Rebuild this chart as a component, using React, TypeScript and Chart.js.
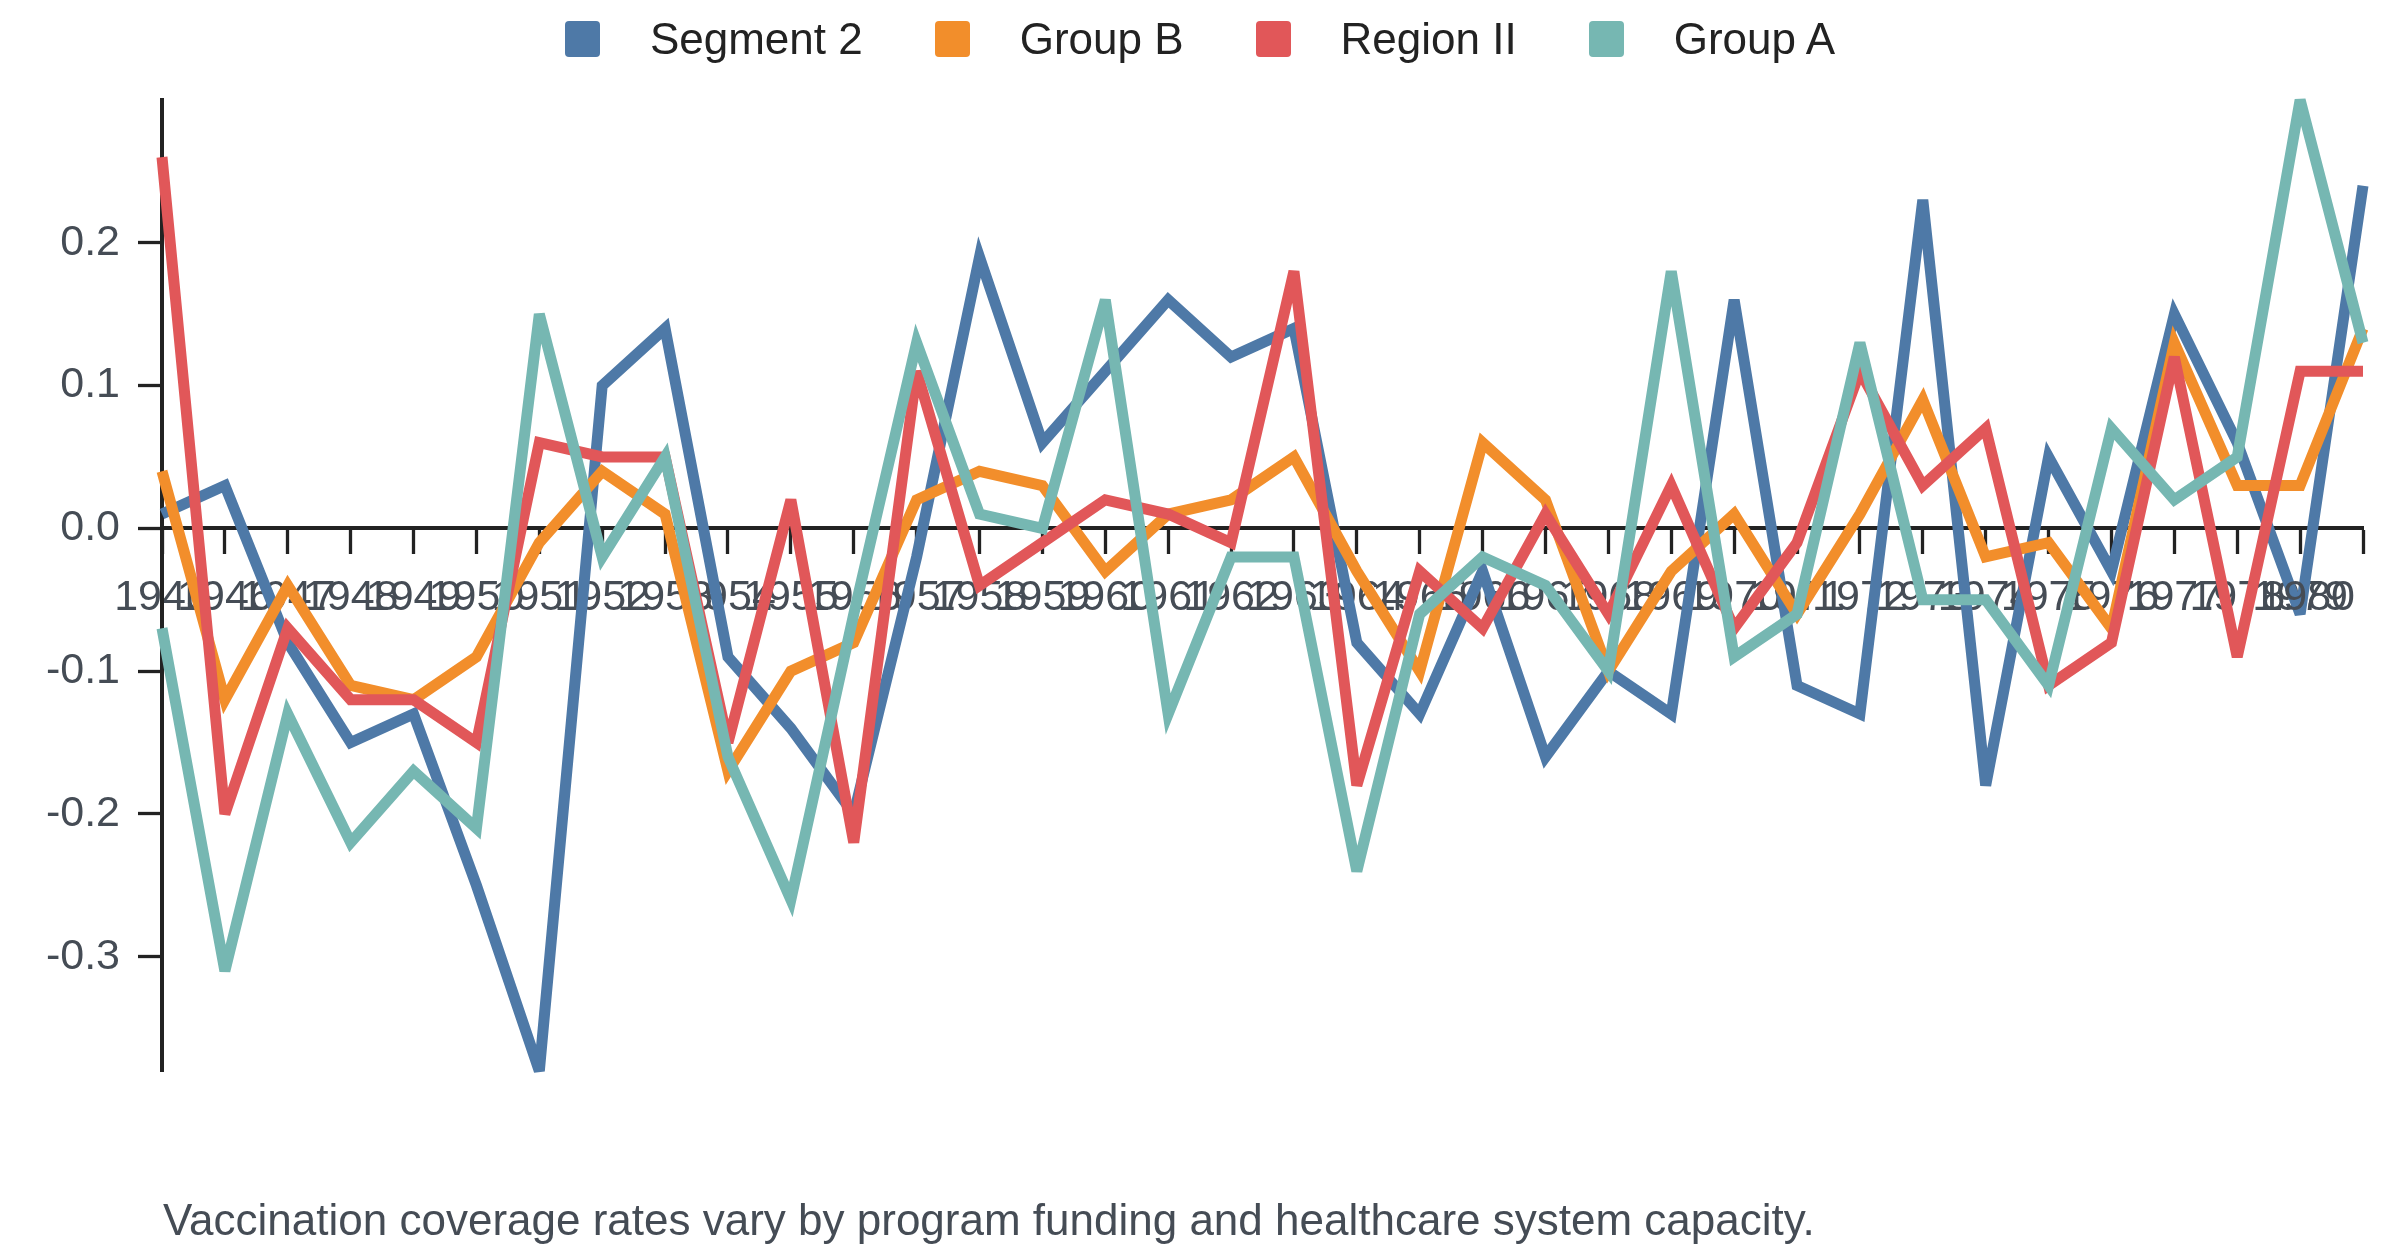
import { useEffect, useRef } from 'react';
import { Chart, registerables } from 'chart.js';
Chart.register(...registerables);

const years = [
  '1945', '1946', '1947', '1948', '1949', '1950', '1951', '1952', '1953', '1954', '1955', '1956',
  '1957', '1958', '1959', '1960', '1961', '1962', '1963', '1964', '1965', '1966', '1967', '1968',
  '1969', '1970', '1971', '1972', '1973', '1974', '1975', '1976', '1977', '1978', '1979', '1980',
];

const segment2 = [
  0.01, 0.03, -0.08, -0.15, -0.13, -0.25, -0.38, 0.10, 0.14, -0.09, -0.14, -0.20,
  -0.02, 0.19, 0.06, 0.11, 0.16, 0.12, 0.14, -0.08, -0.13, -0.03, -0.16, -0.10,
  -0.13, 0.16, -0.11, -0.13, 0.23, -0.18, 0.05, -0.03, 0.15, 0.06, -0.06, 0.24,
];
const groupB = [
  0.04, -0.12, -0.04, -0.11, -0.12, -0.09, -0.01, 0.04, 0.01, -0.17, -0.10, -0.08,
  0.02, 0.04, 0.03, -0.03, 0.01, 0.02, 0.05, -0.03, -0.10, 0.06, 0.02, -0.10,
  -0.03, 0.01, -0.06, 0.01, 0.09, -0.02, -0.01, -0.07, 0.13, 0.03, 0.03, 0.14,
];
const regionII = [
  0.26, -0.20, -0.07, -0.12, -0.12, -0.15, 0.06, 0.05, 0.05, -0.15, 0.02, -0.22,
  0.11, -0.04, -0.01, 0.02, 0.01, -0.01, 0.18, -0.18, -0.03, -0.07, 0.01, -0.06,
  0.03, -0.07, -0.01, 0.11, 0.03, 0.07, -0.11, -0.08, 0.12, -0.09, 0.11, 0.11,
];
const groupA = [
  -0.07, -0.31, -0.13, -0.22, -0.17, -0.21, 0.15, -0.02, 0.05, -0.16, -0.26, -0.06,
  0.13, 0.01, 0.00, 0.16, -0.13, -0.02, -0.02, -0.24, -0.06, -0.02, -0.04, -0.10,
  0.18, -0.09, -0.06, 0.13, -0.05, -0.05, -0.11, 0.07, 0.02, 0.05, 0.30, 0.13,
];

const seriesNames = ['Segment 2', 'Group B', 'Region II', 'Group A'];
const seriesData = [segment2, groupB, regionII, groupA];
const seriesColors = ['#4e79a7', '#f28e2b', '#e15759', '#76b7b2'];

const yTicks = [-0.3, -0.2, -0.1, 0, 0.1, 0.2];
const yMin = -0.38;
const yMax = 0.3;

const FONT = '"Liberation Sans", Arial, Helvetica, sans-serif';
const TICK_COLOR = '#454c55';
const AXIS_COLOR = '#222';
const TICK_SIZE = 43;
const TICK_LEN = 24;
const X_PAD = 20;

// sharp corners get bevelled like an svg path (miter limit 4)
const miter = {
  id: 'miter',
  beforeDatasetsDraw(chart: any) {
    chart.ctx.save();
    chart.ctx.miterLimit = 4;
  },
  afterDatasetsDraw(chart: any) {
    chart.ctx.restore();
  },
};

// the last year label is pulled back inside the canvas, as in the original
const lastLabel = {
  id: 'lastLabel',
  afterDraw(chart: any) {
    const xs = chart.scales.x;
    const ys = chart.scales.y;
    const ctx = chart.ctx;
    const i = years.length - 1;
    ctx.save();
    ctx.font = `${TICK_SIZE}px ${FONT}`;
    ctx.fillStyle = TICK_COLOR;
    ctx.textAlign = 'center';
    ctx.textBaseline = 'middle';
    const w = ctx.measureText(years[i]).width;
    const px = Math.min(xs.getPixelForTick(i), chart.width - 45 - w / 2);
    const py = ys.getPixelForValue(0) + TICK_LEN + X_PAD + (TICK_SIZE * 1.2) / 2;
    ctx.fillText(years[i], px, py);
    ctx.restore();
  },
};

export default function App() {
  const canvasRef = useRef<HTMLCanvasElement>(null);

  useEffect(() => {
    Chart.defaults.font.family = FONT;
    const chart = new Chart(canvasRef.current!, {
      type: 'line',
      data: {
        labels: years,
        datasets: seriesData.map((d, i) => ({
          label: seriesNames[i],
          data: d,
          borderColor: seriesColors[i],
          backgroundColor: seriesColors[i],
          borderWidth: 11,
          borderJoinStyle: 'miter' as const,
          pointRadius: 0,
          tension: 0,
          fill: false,
          clip: false as any,
          order: seriesData.length - 1 - i,
        })),
      },
      options: {
        animation: false,
        responsive: true,
        maintainAspectRatio: false,
        events: [],
        layout: { padding: { left: 0, right: 37, top: 100, bottom: 185 } },
        plugins: { legend: { display: false }, tooltip: { enabled: false } },
        scales: {
          x: {
            type: 'category',
            position: { y: 0 } as any,
            offset: false,
            z: 1,
            grid: {
              drawOnChartArea: false,
              drawTicks: true,
              tickLength: TICK_LEN,
              tickWidth: 3.3,
              tickColor: AXIS_COLOR,
            },
            border: { display: true, width: 4, color: AXIS_COLOR },
            ticks: {
              autoSkip: false,
              maxRotation: 0,
              minRotation: 0,
              padding: X_PAD,
              color: TICK_COLOR,
              font: { size: TICK_SIZE },
              callback: (_v: any, i: number) => (i === years.length - 1 ? '' : years[i]),
            },
            afterFit: (s: any) => {
              s.height = 0;
              s.paddingLeft = 0;
              s.paddingRight = 0;
            },
          },
          y: {
            type: 'linear',
            min: yMin,
            max: yMax,
            z: 1,
            grid: {
              drawOnChartArea: false,
              drawTicks: true,
              tickLength: TICK_LEN,
              tickWidth: 3.3,
              tickColor: AXIS_COLOR,
            },
            border: { display: true, width: 4, color: AXIS_COLOR },
            ticks: {
              padding: 18,
              color: TICK_COLOR,
              font: { size: TICK_SIZE },
              callback: (v: any) => Number(v).toFixed(1),
            },
            afterBuildTicks: (s: any) => {
              s.ticks = yTicks.map((v) => ({ value: v }));
            },
            afterFit: (s: any) => {
              s.width = 162;
            },
          },
        },
      },
      plugins: [miter, lastLabel],
    });
    return () => chart.destroy();
  }, []);

  return (
    <div style={{ position: 'absolute', left: 0, top: 0, width: 2400, height: 1256, fontFamily: FONT, background: '#fff' }}>
      <div style={{ position: 'absolute', left: 0, top: 0, width: 2400, height: 1256 }}>
        <canvas ref={canvasRef} />
      </div>
      <div
        style={{
          position: 'absolute', left: 0, top: 0, width: 2400, height: 78,
          display: 'flex', justifyContent: 'center', alignItems: 'center',
        }}
      >
        {seriesNames.map((n, i) => (
          <span key={n} style={{ display: 'flex', alignItems: 'center', marginLeft: i === 0 ? 0 : 72 }}>
            <span style={{ width: 35, height: 36, borderRadius: 4, background: seriesColors[i], marginRight: 50 }} />
            <span style={{ fontSize: 44, color: '#222', lineHeight: 1 }}>{n}</span>
          </span>
        ))}
      </div>
      <div
        style={{
          position: 'absolute', left: 163, top: 1198, fontSize: 44, lineHeight: 1,
          color: TICK_COLOR, whiteSpace: 'nowrap',
        }}
      >
        Vaccination coverage rates vary by program funding and healthcare system capacity.
      </div>
    </div>
  );
}
